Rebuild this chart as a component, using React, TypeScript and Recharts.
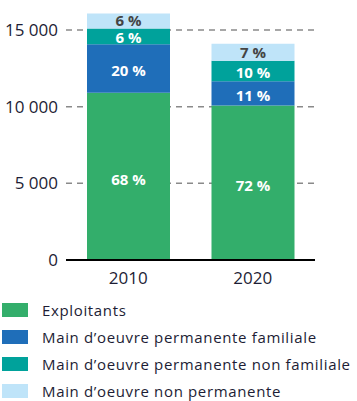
import { BarChart, Bar, XAxis, YAxis, CartesianGrid, Legend, LabelList } from 'recharts';

const years = ['2010', '2020'];

const exploitants = [10900, 10070];
const permFamiliale = [3170, 1580];
const permNonFamiliale = [1020, 1350];
const nonPermanente = [990, 1100];

const exploitantsPct = ['68 %', '72 %'];
const permFamilialePct = ['20 %', '11 %'];
const permNonFamilialePct = ['6 %', '10 %'];
const nonPermanentePct = ['6 %', '7 %'];

const yTicks = [0, 5000, 10000, 15000];

const series = [
  { key: 'exploitants', name: 'Exploitants', color: '#33ae6b', text: '#ffffff', dy: 3 },
  { key: 'permFamiliale', name: 'Main d\u2019oeuvre permanente familiale', color: '#1f6eb9', text: '#ffffff', dy: 2 },
  { key: 'permNonFamiliale', name: 'Main d\u2019oeuvre permanente non familiale', color: '#00a29b', text: '#ffffff', dy: 1.5 },
  { key: 'nonPermanente', name: 'Main d\u2019oeuvre non permanente', color: '#bfe4f9', text: '#444444', dy: 0 },
];

const data = years.map((year, i) => ({
  year,
  exploitants: exploitants[i],
  permFamiliale: permFamiliale[i],
  permNonFamiliale: permNonFamiliale[i],
  nonPermanente: nonPermanente[i],
  exploitantsLabel: exploitantsPct[i],
  permFamilialeLabel: permFamilialePct[i],
  permNonFamilialeLabel: permNonFamilialePct[i],
  nonPermanenteLabel: nonPermanentePct[i],
}));

const font = '"Open Sans", sans-serif';

const formatTick = (v: number) => String(v).replace(/\B(?=(\d{3})+(?!\d))/g, ' ');

function LegendBox() {
  return (
    <div style={{ height: 105, width: 357, fontFamily: font }}>
      {series.map((s) => (
        <div key={s.key} style={{ height: 27, display: 'flex', alignItems: 'center' }}>
          <span style={{ width: 26, height: 14, background: s.color, marginLeft: 2, marginRight: 14 }} />
          <span style={{ fontSize: 15, letterSpacing: 0.65, color: '#1d1d35', whiteSpace: 'nowrap' }}>{s.name}</span>
        </div>
      ))}
    </div>
  );
}

export default function App() {
  return (
    <div style={{ position: 'absolute', left: 0, top: 0, width: 357, height: 401, background: '#fff' }}>
      <BarChart
        width={357}
        height={401}
        data={data}
        margin={{ top: 7, right: 42, bottom: 0, left: 0 }}
        style={{ fontFamily: font }}
      >
        <CartesianGrid vertical={false} syncWithTicks stroke="#8a8a8a" strokeDasharray="6 5" strokeWidth={1.5} />
        <XAxis
          dataKey="year"
          height={36}
          tickLine={false}
          tickMargin={6}
          axisLine={{ stroke: '#000', strokeWidth: 2 }}
          tick={{ fill: '#1d1d35', fontSize: 17 }}
        />
        <YAxis
          width={66}
          domain={[0, 16500]}
          ticks={yTicks}
          tickFormatter={formatTick}
          axisLine={false}
          tickLine={false}
          tick={{ fill: '#1d1d35', fontSize: 17 }}
        />
        <Legend verticalAlign="bottom" align="left" layout="horizontal" content={() => <LegendBox />} />
        {series.map((s) => (
          <Bar key={s.key} dataKey={s.key} name={s.name} stackId="a" fill={s.color} barSize={83} isAnimationActive={false}>
            <LabelList
              dataKey={`${s.key}Label`}
              position="center"
              fill={s.text}
              fontSize={15}
              fontWeight={700}
              dy={s.dy}
            />
          </Bar>
        ))}
      </BarChart>
    </div>
  );
}
